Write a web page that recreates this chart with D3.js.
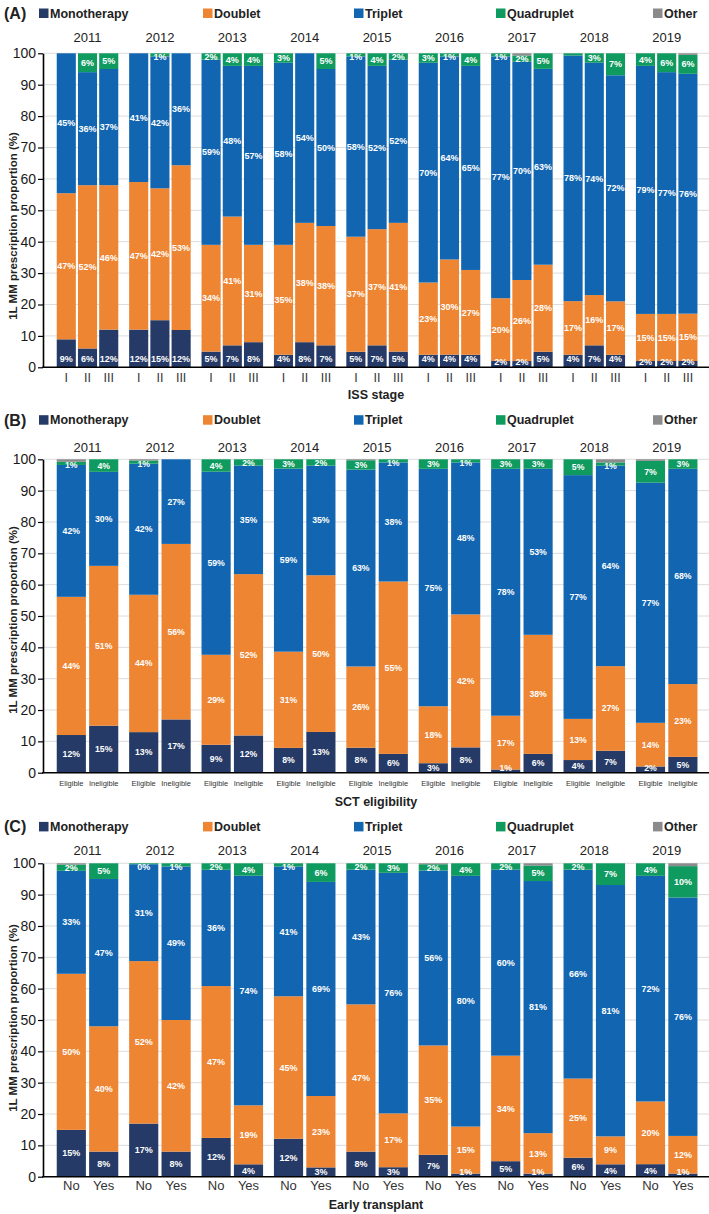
<!DOCTYPE html>
<html><head><meta charset="utf-8">
<script src="https://cdn.jsdelivr.net/npm/d3@7"></script>
<style>body{margin:0;background:#fff} svg{display:block;font-family:"Liberation Sans",Arial,sans-serif}</style>
</head><body>
<svg id="chart" width="709" height="1214"></svg>
<script>
// ---------- DATA ----------
const years = ["2011","2012","2013","2014","2015","2016","2017","2018","2019"];
const seriesNames = ["Monotherapy","Doublet","Triplet","Quadruplet","Other"];
const yTickValues = [0,10,20,30,40,50,60,70,80,90,100];

// Panel A: ISS stage (year-major, 3 stages per year)
const issStages = ["I","II","III"];
const issMono    = [9,6,12, 12,15,12, 5,7,8, 4,8,7, 5,7,5, 4,4,4, 2,2,5, 4,7,4, 2,2,2];
const issDoublet = [47,52,46, 47,42,53, 34,41,31, 35,38,38, 37,37,41, 23,30,27, 20,26,28, 17,16,17, 15,15,15];
const issTriplet = [45,36,37, 41,42,36, 59,48,57, 58,54,50, 58,52,52, 70,64,65, 77,70,63, 78,74,72, 79,77,76];
const issQuad    = [0,6,5, 0,1,0, 2,4,4, 3,0,5, 1,4,2, 3,1,4, 1,2,5, 0.7,3,7, 4,6,6];
const issOther   = [0,0,0, 0,0,0, 0,0,0, 0,0,0, 0,0,0, 0,0,0, 0,0.7,0, 0,0,0, 0,0,0.5];

// Panel B: SCT eligibility
const sctGroups = ["Eligible","Ineligible"];
const sctMono    = [12,15, 13,17, 9,12, 8,13, 8,6, 3,8, 1,6, 4,7, 2,5];
const sctDoublet = [44,51, 44,56, 29,52, 31,50, 26,55, 18,42, 17,38, 13,27, 14,23];
const sctTriplet = [42,30, 42,27, 59,35, 59,35, 63,38, 75,48, 78,53, 77,64, 77,68];
const sctQuad    = [1,4, 1,0, 4,2, 3,2, 3,1, 3,1, 3,3, 5,1, 7,3];
const sctOther   = [0.8,0, 0.4,0, 0,0, 0,0, 0.3,0, 0,0, 0,0, 0,1, 0.5,0];

// Panel C: Early transplant
const txGroups = ["No","Yes"];
const txMono    = [15,8, 17,8, 12,4, 12,3, 8,3, 7,1, 5,1, 6,4, 4,1];
const txDoublet = [50,40, 52,42, 47,19, 45,23, 47,17, 35,15, 34,13, 25,9, 20,12];
const txTriplet = [33,47, 31,49, 36,74, 41,69, 43,76, 56,80, 60,81, 66,81, 72,76];
const txQuad    = [2,5, 0.3,1, 2,4, 1,6, 2,3, 2,4, 2,5, 2,7, 4,10];
const txOther   = [0.4,0, 0,0, 0,0, 0,0, 0,0, 0.3,0, 0,0.7, 0,0, 0,0.9];

// segments drawn without a value label
const unlabeledSegments = [["A","2018","I","Quadruplet"]];

// ---------- STYLE / LAYOUT ----------
const colors = {Monotherapy:"#253a66", Doublet:"#ee8532", Triplet:"#1266b1", Quadruplet:"#0f9a5f", Other:"#8b8b8d"};
const legendX = [39, 203, 354, 496, 653];
const axisX = 43, rightX = 709;

const panels = [
  {id:"A", groups:issStages, data:[issMono,issDoublet,issTriplet,issQuad,issOther], title:"ISS stage",
   top:53.3, bottom:367.3, legendY:13.3, yearY:37.7, tickY:378, titleY:395, yTitleY:226, tickFont:12.5, labelFont:9, monoAtBase:true},
  {id:"B", groups:sctGroups, data:[sctMono,sctDoublet,sctTriplet,sctQuad,sctOther], title:"SCT eligibility",
   top:459.3, bottom:772.7, legendY:420, yearY:447.7, tickY:783, titleY:801.7, yTitleY:620, tickFont:7.5, labelFont:8.7, monoAtBase:false},
  {id:"C", groups:txGroups, data:[txMono,txDoublet,txTriplet,txQuad,txOther], title:"Early transplant",
   top:863.3, bottom:1176.7, legendY:826.7, yearY:850.7, tickY:1185.5, titleY:1205, yTitleY:1018, tickFont:13, labelFont:9, monoAtBase:false}
];

const svg = d3.select("#chart");

const x0 = d3.scaleBand().domain(years).range([49.5, 704.7]).paddingInner(0.15).paddingOuter(0.1);

panels.forEach(p => {
  const g = svg.append("g");
  const y = d3.scaleLinear().domain([0,100]).range([p.bottom, p.top]);
  const x1 = d3.scaleBand().domain(p.groups).range([0, x0.bandwidth()]).paddingInner(0.1);
  const n = p.groups.length;

  // rows
  const rows = [];
  years.forEach((yr, i) => p.groups.forEach((gr, j) => {
    const r = {year: yr, group: gr};
    seriesNames.forEach((s, k) => r[s] = p.data[k][i*n + j]);
    rows.push(r);
  }));
  const stacked = d3.stack().keys(seriesNames).offset(d3.stackOffsetExpand)(rows);

  // gridlines
  g.append("g").selectAll("line").data(yTickValues.filter(v => v > 0)).join("line")
    .attr("x1", axisX).attr("x2", rightX)
    .attr("y1", d => y(d)).attr("y2", d => y(d))
    .attr("stroke", "#dcdcdc").attr("stroke-width", 1);

  // bars
  stacked.forEach(layer => {
    g.append("g").attr("fill", colors[layer.key]).selectAll("rect").data(layer).join("rect")
      .attr("x", d => x0(d.data.year) + x1(d.data.group))
      .attr("width", x1.bandwidth())
      .attr("y", d => y(d[1]*100))
      .attr("height", d => Math.max(0, y(d[0]*100) - y(d[1]*100)));
  });

  // labels
  stacked.forEach(layer => {
    if (layer.key === "Other") return;
    const lab = layer.filter(d => {
      const v = d.data[layer.key];
      if (!(v > 0)) return false;
      return !unlabeledSegments.some(u => u[0]===p.id && u[1]===d.data.year && u[2]===d.data.group && u[3]===layer.key);
    });
    g.append("g").selectAll("text").data(lab).join("text")
      .attr("x", d => x0(d.data.year) + x1(d.data.group) + x1.bandwidth()/2)
      .attr("y", d => {
        const yt = y(d[1]*100), yb = y(d[0]*100);
        let cy = (yt + yb) / 2;
        if (layer.key === "Monotherapy" && p.monoAtBase) cy = p.bottom - 8;
        cy = Math.max(cy, yt + 3.6);
        cy = Math.min(cy, p.bottom - 5);
        return cy;
      })
      .attr("dy", "0.35em")
      .attr("text-anchor", "middle")
      .attr("fill", "#ffffff")
      .attr("font-weight", "bold")
      .attr("font-size", p.labelFont)
      .text(d => Math.round(d.data[layer.key]) + "%");
  });

  // y axis
  const yAxis = d3.axisLeft(y).tickValues(yTickValues).tickSize(5).tickPadding(2).tickSizeOuter(0);
  const ya = g.append("g").attr("transform", `translate(${axisX},0)`).call(yAxis);
  ya.select(".domain").attr("stroke", "#000").attr("stroke-width", 1.6);
  ya.selectAll(".tick line").attr("stroke", "#000").attr("stroke-width", 1.2);
  ya.selectAll(".tick text").attr("font-size", 14).attr("fill", "#1a1a1a").attr("font-family", "Liberation Sans, Arial, sans-serif");

  // bottom baseline
  g.append("line").attr("x1", axisX - 0.8).attr("x2", rightX).attr("y1", p.bottom).attr("y2", p.bottom)
    .attr("stroke", "#000").attr("stroke-width", 1.6);

  // group tick labels
  g.append("g").selectAll("text").data(rows).join("text")
    .attr("x", d => x0(d.year) + x1(d.group) + x1.bandwidth()/2)
    .attr("y", p.tickY).attr("dy", "0.35em")
    .attr("text-anchor", "middle").attr("font-size", p.tickFont).attr("fill", "#333")
    .text(d => d.group);

  // year labels
  g.append("g").selectAll("text").data(years).join("text")
    .attr("x", d => x0(d) + x0.bandwidth()/2)
    .attr("y", p.yearY).attr("dy", "0.35em")
    .attr("text-anchor", "middle").attr("font-size", 13).attr("fill", "#222")
    .text(d => d);

  // x title
  g.append("text").attr("x", (axisX + rightX)/2).attr("y", p.titleY).attr("dy", "0.35em")
    .attr("text-anchor", "middle").attr("font-size", 12.5).attr("font-weight", "bold").attr("fill", "#222")
    .text(p.title);

  // y title
  g.append("text")
    .attr("transform", `translate(12.5,${p.yTitleY}) rotate(-90)`)
    .attr("dy", "0.35em").attr("text-anchor", "middle")
    .attr("font-size", 11.5).attr("font-weight", "bold").attr("fill", "#222")
    .text("1L MM prescription proportion (%)");

  // panel letter
  g.append("text").attr("x", 4).attr("y", p.legendY).attr("dy", "0.35em")
    .attr("font-size", 16).attr("font-weight", "bold").attr("fill", "#222")
    .text(`(${p.id})`);

  // legend
  const lg = g.append("g").selectAll("g").data(seriesNames).join("g")
    .attr("transform", (d, i) => `translate(${legendX[i]},${p.legendY})`);
  lg.append("rect").attr("x", 0).attr("y", -4.8).attr("width", 9.5).attr("height", 9.5).attr("fill", d => colors[d]);
  lg.append("text").attr("x", 11).attr("y", 0).attr("dy", "0.35em")
    .attr("font-size", 12.5).attr("font-weight", "bold").attr("fill", "#222").text(d => d);
});
</script>
</body></html>
